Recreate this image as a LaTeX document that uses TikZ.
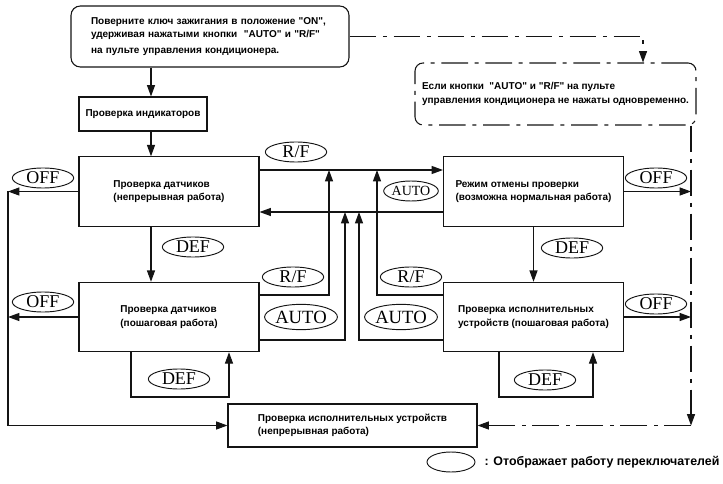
\documentclass[tikz,border=0pt]{standalone}
\usepackage{fontspec}
\setmainfont{Liberation Sans}[Ligatures=TeXOff]
\newfontfamily\swfont{Liberation Serif}
\usetikzlibrary{arrows.meta,shapes.geometric}
\definecolor{cInk}{HTML}{141414}
\tikzset{
  box/.style={draw=cInk, line width=0.8pt, align=left, inner sep=0pt,
    font=\fontsize{7.5}{10}\selectfont\bfseries},
  modebox/.style={box, minimum width=135pt, minimum height=52pt},
  startbox/.style={box, rounded corners=7pt},
  notebox/.style={box, rounded corners=6pt, chain},
  sw/.style={ellipse, draw=cInk, line width=0.7pt, inner sep=0pt,
    minimum width=46pt, minimum height=15pt, font=\fontsize{13.5}{13.5}\swfont},
  swsmall/.style={sw, minimum width=38pt, font=\fontsize{10.5}{10.5}\swfont},
  swbig/.style={sw, minimum width=53pt, minimum height=19pt, font=\fontsize{14}{14}\swfont},
  flow/.style={-{Triangle[length=8.5pt,width=6pt]}, draw=cInk, line width=0.8pt},
  chain/.style={dash pattern=on 20pt off 5pt on 3pt off 5pt},
}

\begin{document}
\begin{tikzpicture}[x=0.75pt, y=-0.75pt]
  \useasboundingbox (0,0) rectangle (723,484);
  % steps
  \node[startbox, minimum width=208.5pt, minimum height=45.75pt, text width=178.5pt] (start) at (210,36.5)
    {Поверните ключ зажигания в положение "ON",\\удерживая нажатыми кнопки\ \ "AUTO" и "R/F"\\[2pt]на пульте управления кондиционера.};
  \node[notebox, minimum width=210.75pt, minimum height=46.5pt] (note) at (555.5,94)
    {Если кнопки\ \ "AUTO" и "R/F" на пульте\\управления кондиционера не нажаты одновременно.};
  \node[box, minimum width=96pt, minimum height=25.5pt] (ind) at (143,114) {Проверка индикаторов};
  \node[modebox] (sens) at (169,191.5) {Проверка датчиков\\(непрерывная работа)};
  \node[modebox] (sstep) at (169,317) {Проверка датчиков\\(пошаговая работа)};
  \node[modebox] (cancel) at (533.5,191.5) {Режим отмены проверки\\(возможна нормальная работа)};
  \node[modebox] (astep) at (533.5,317) {Проверка исполнительных\\устройств (пошаговая работа)};
  \node[box, minimum width=186.75pt, minimum height=32.25pt] (act) at (352.5,425.5)
    {Проверка исполнительных устройств\\(непрерывная работа)};
  % bends
  \coordinate (spine) at (151,0);
  \coordinate (lbus) at (8,0);
  \coordinate (rbus) at (691,0);
  \coordinate (tap) at (643,0);
  \coordinate (rfy) at (0,170);
  \coordinate (auy) at (0,212);
  \coordinate (lrf) at (329,295);
  \coordinate (lau) at (345,340);
  \coordinate (rau) at (359,340);
  \coordinate (rrf) at (377,295);
  \coordinate (sl1) at (131,397);
  \coordinate (sl2) at (229,397);
  \coordinate (al1) at (499,397);
  \coordinate (al2) at (593,397);
  % main flow
  \draw[flow] (start.south -| spine) -- (ind.north -| spine);
  \draw[flow] (ind.south -| spine) -- (sens.north -| spine);
  \draw[flow] (sens.south -| spine) -- (sstep.north -| spine);
  \draw[flow] (cancel) -- (astep);
  \draw[flow] (sens.east |- rfy) -- (cancel.west |- rfy);
  \draw[flow] (cancel.west |- auy) -- (sens.east |- auy);
  \draw[flow] (sstep.east |- lrf) -| (lrf |- rfy);
  \draw[flow] (sstep.east |- lau) -| (lau |- auy);
  \draw[flow] (astep.west |- rau) -| (rau |- auy);
  \draw[flow] (astep.west |- rrf) -| (rrf |- rfy);
  % OFF
  \draw[flow] (sens.west) -- (sens.west -| lbus);
  \draw[flow] (sstep.west) -- (sstep.west -| lbus);
  \draw[flow] (sens.west -| lbus) |- (act.west);
  \draw[flow] (cancel.east) -- (cancel.east -| rbus);
  \draw[flow] (astep.east) -- (astep.east -| rbus);
  % DEF loops
  \draw[flow] (sstep.south -| sl1) -- (sl1) -- (sl2) -- (sstep.south -| sl2);
  \draw[flow] (astep.south -| al1) -- (al1) -- (al2) -- (astep.south -| al2);
  % dash-dot path
  \draw[flow, chain] (start.east) -| (tap |- note.north);
  \draw[flow, chain] (note.south -| rbus) -- (rbus |- act.east);
  \draw[flow, chain] (rbus |- act.east) -- (act.east);
  % switches
  \node[sw] (rf1) at (296,152) {R/F};
  \node[swsmall] (au1) at (411,191) {AUTO};
  \node[sw] (rf2) at (293,277) {R/F};
  \node[swbig] (au2) at (301,317) {AUTO};
  \node[sw] (rf4) at (411,277) {R/F};
  \node[swbig] (au4) at (401,317) {AUTO};
  \node[sw] (def1) at (193,247) {DEF};
  \node[sw] (def3) at (572,248) {DEF};
  \node[sw] (def2) at (179,379) {DEF};
  \node[sw] (def4) at (545,380) {DEF};
  \node[sw] (off1) at (43,178) {OFF};
  \node[sw] (off2) at (43,302) {OFF};
  \node[sw] (off3) at (656,178) {OFF};
  \node[sw] (off4) at (656,304) {OFF};
  % legend
  \node[sw, minimum width=36pt] (key) at (451,462) {};
  \node[anchor=west, font=\fontsize{9.3}{9.3}\selectfont\bfseries] (keytext) at (480,462)
    {: Отображает работу переключателей};
\end{tikzpicture}
\end{document}
